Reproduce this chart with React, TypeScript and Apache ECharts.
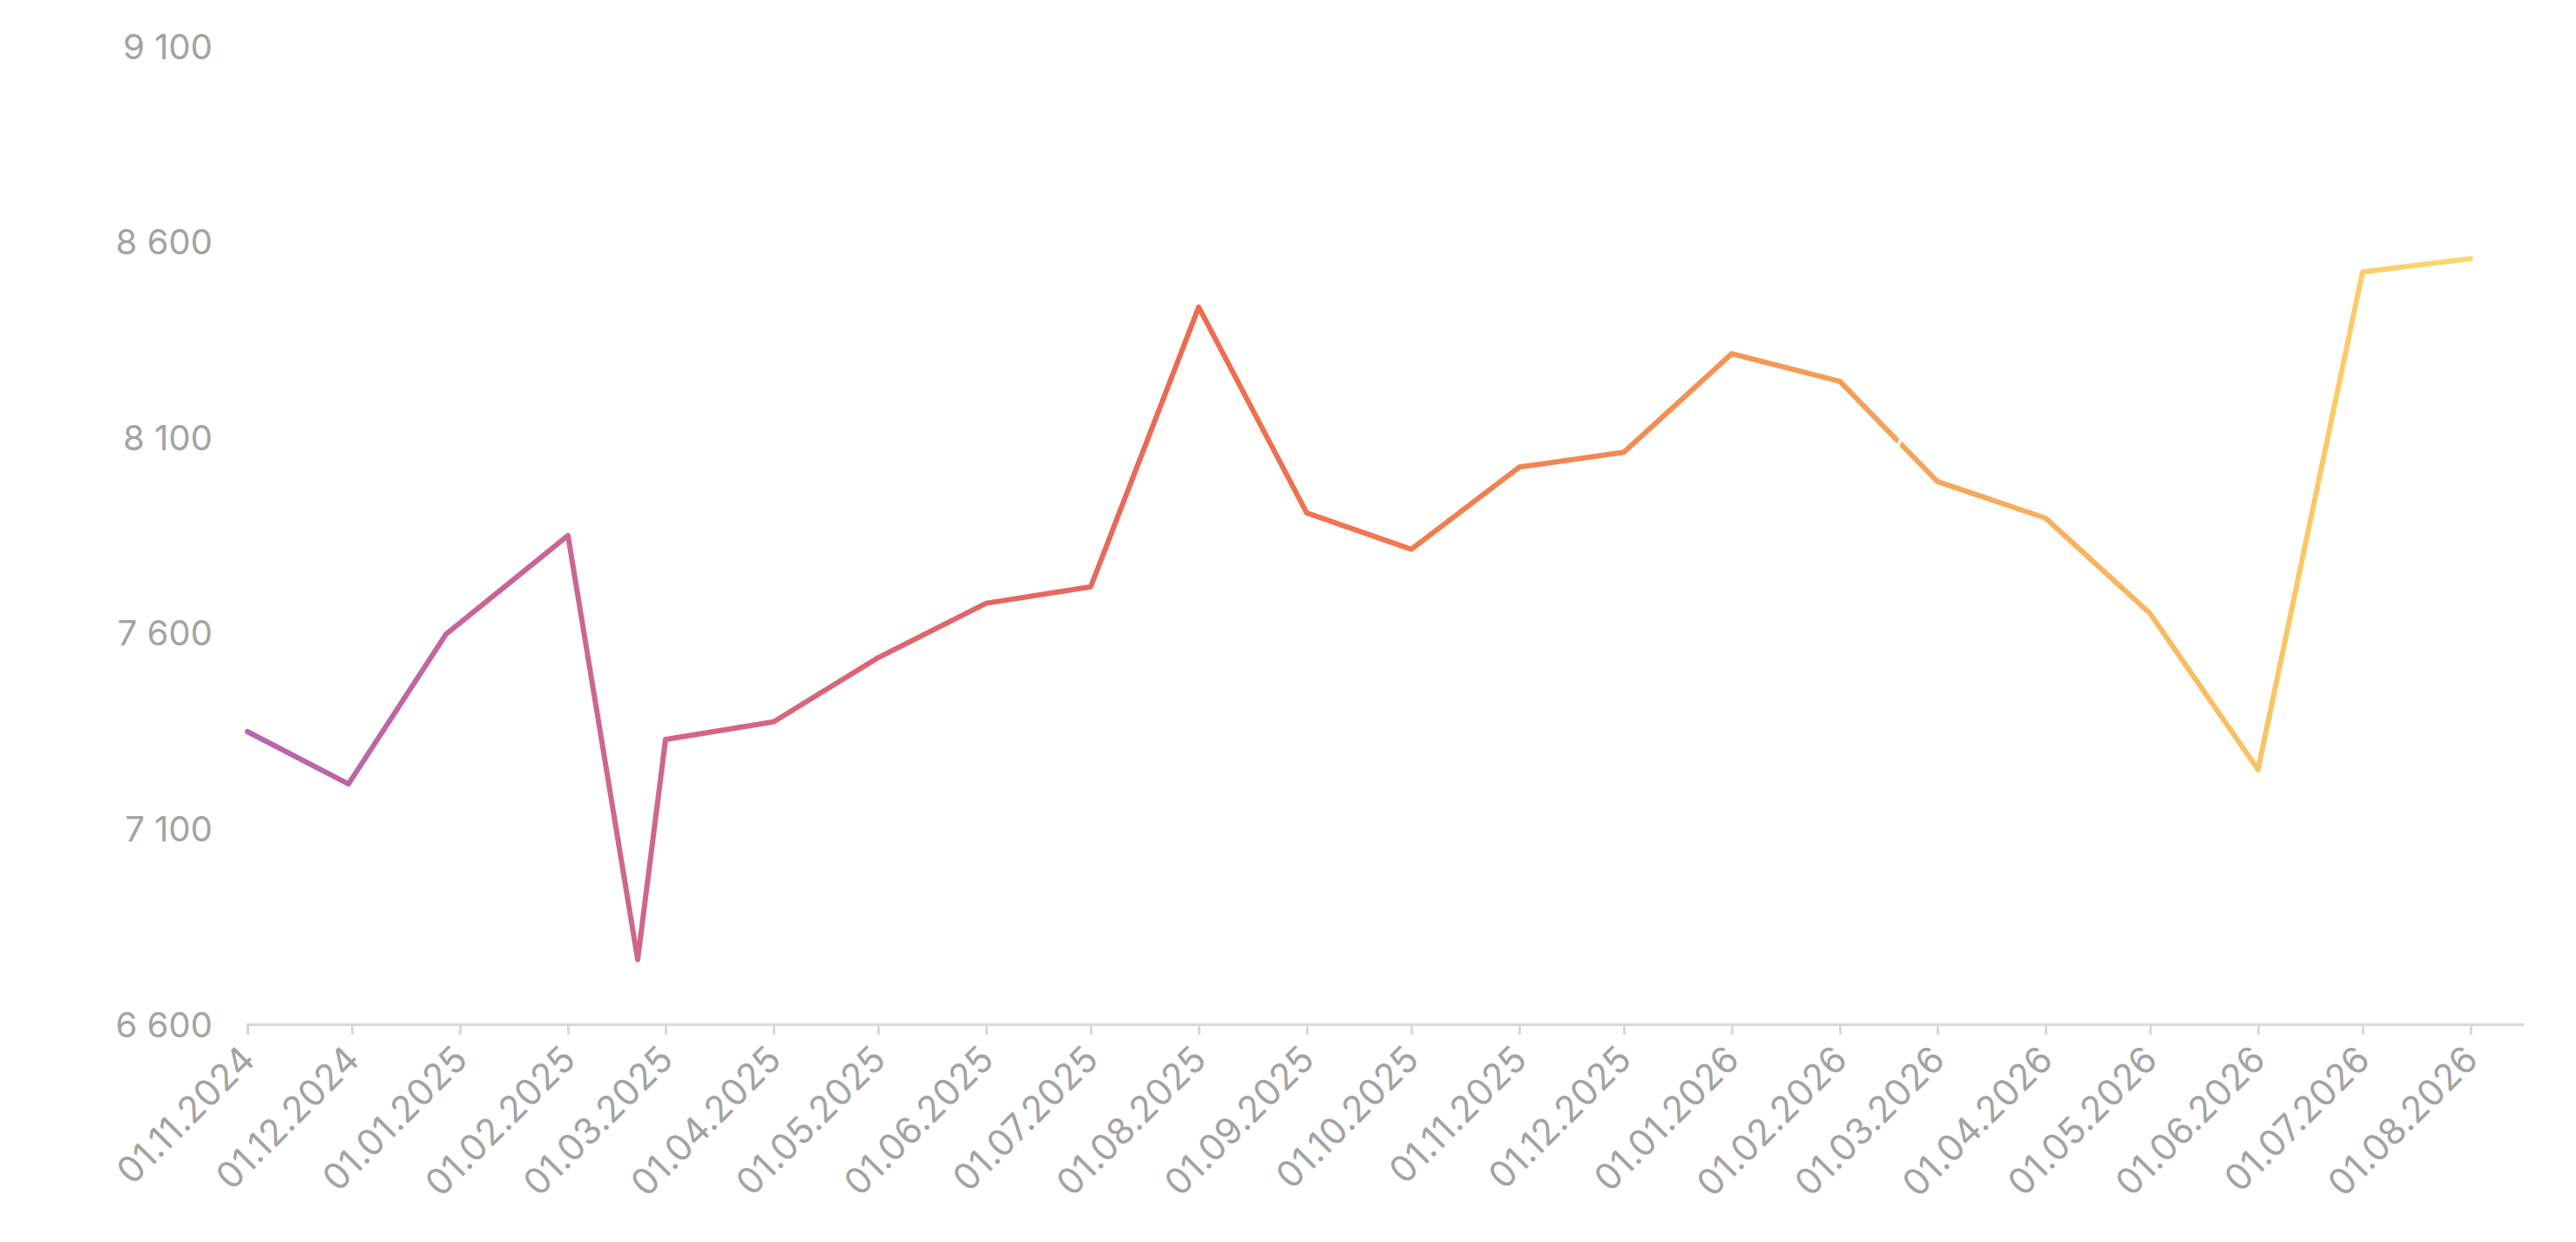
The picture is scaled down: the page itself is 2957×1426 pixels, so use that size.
import React, { useEffect, useRef } from "react";
import * as echarts from "echarts";

const pointDates = [
  "2024-11-01", "2024-11-30", "2024-12-28", "2025-02-01", "2025-02-21", "2025-03-01",
  "2025-04-01", "2025-05-01", "2025-06-01", "2025-07-01", "2025-08-01", "2025-09-01",
  "2025-10-01", "2025-11-01", "2025-12-01", "2026-01-01", "2026-02-01", "2026-03-01",
  "2026-04-01", "2026-05-01", "2026-06-01", "2026-07-01", "2026-08-01",
];
const pointValues = [
  7348, 7214, 7597, 7849, 6765, 7328,
  7373, 7537, 7676, 7718, 8433, 7907,
  7814, 8024, 8062, 8314, 8243, 7987,
  7894, 7650, 7251, 8523, 8557,
];
const tickDates = [
  "2024-11-01", "2024-12-01", "2025-01-01", "2025-02-01", "2025-03-01", "2025-04-01",
  "2025-05-01", "2025-06-01", "2025-07-01", "2025-08-01", "2025-09-01", "2025-10-01",
  "2025-11-01", "2025-12-01", "2026-01-01", "2026-02-01", "2026-03-01", "2026-04-01",
  "2026-05-01", "2026-06-01", "2026-07-01", "2026-08-01",
];
const yTicks = [6600, 7100, 7600, 8100, 8600, 9100];
const axisMinDate = "2024-11-01";
const axisMaxDate = "2026-08-16";

// label nudges (px) for the white value labels, by point index
const labelShift: Record<number, [number, number]> = {
  0: [76, -11],
  1: [45, 0],
  9: [-25, -40],
  11: [40, 0],
  14: [-25, 0],
  19: [20, 0],
  22: [16, -28],
};

function ts(d: string): number {
  const [y, m, day] = d.split("-").map(Number);
  return Date.UTC(y, m - 1, day);
}
function fmtNum(v: number): string {
  return String(Math.round(v)).replace(/\B(?=(\d{3})+(?!\d))/g, " ");
}
function fmtDate(v: number): string {
  const d = new Date(v);
  const dd = String(d.getUTCDate()).padStart(2, "0");
  const mm = String(d.getUTCMonth() + 1).padStart(2, "0");
  return `${dd}.${mm}.${d.getUTCFullYear()}`;
}

export default function App() {
  const ref = useRef<HTMLDivElement>(null);
  useEffect(() => {
    if (!ref.current) return;
    const chart = echarts.init(ref.current, undefined, { renderer: "svg" });
    const data = pointDates.map((d, i) => {
      const prev = pointValues[i - 1];
      const next = pointValues[i + 1];
      const v = pointValues[i];
      const isMin = prev !== undefined && next !== undefined && v < prev && v < next;
      return {
        value: [ts(d), v],
        label: {
          position: isMin ? "bottom" : "top",
          offset: labelShift[i] || [0, 0],
        },
      };
    });
    chart.setOption({
      animation: false,
      backgroundColor: "#ffffff",
      grid: { left: 284, right: 61, top: 53, bottom: 250, outerBoundsMode: "none" },
      xAxis: {
        type: "value",
        min: ts(axisMinDate),
        max: ts(axisMaxDate),
        axisLine: { show: true, lineStyle: { color: "#d9d9d9", width: 3 } },
        axisTick: {
          show: true,
          length: 12,
          lineStyle: { color: "#d9d9d9", width: 3 },
          customValues: tickDates.map(ts),
        },
        axisLabel: {
          customValues: tickDates.map(ts),
          formatter: (v: number) => fmtDate(v),
          rotate: 45,
          margin: 32,
          color: "#a3a3a3",
          fontSize: 42,
          fontFamily: "Inter",
          hideOverlap: false,
        },
        splitLine: { show: false },
      },
      yAxis: {
        type: "value",
        min: 6600,
        max: 9100,
        axisLine: { show: false },
        axisTick: { show: false },
        splitLine: { show: false },
        axisLabel: {
          customValues: yTicks,
          formatter: (v: number) => fmtNum(v),
          margin: 40,
          color: "#a3a3a3",
          fontSize: 40,
          fontFamily: "Inter",
        },
      },
      series: [
        {
          type: "line",
          data,
          symbol: "circle",
          symbolSize: 1,
          showSymbol: true,
          itemStyle: { color: "rgba(0,0,0,0)" },
          lineStyle: {
            width: 6,
            cap: "round",
            join: "round",
            color: new echarts.graphic.LinearGradient(0, 0, 1, 0, [
              { offset: 0, color: "#b665b0" },
              { offset: 0.15, color: "#cc6690" },
              { offset: 0.3, color: "#de6470" },
              { offset: 0.43, color: "#ee6b50" },
              { offset: 0.6, color: "#f28752" },
              { offset: 0.75, color: "#f6a45a" },
              { offset: 0.9, color: "#f9c262" },
              { offset: 1, color: "#fcd86f" },
            ]),
          },
          label: {
            show: true,
            color: "#ffffff",
            fontSize: 40,
            fontFamily: "Inter",
            distance: 32,
            formatter: (p: any) => fmtNum(p.value[1]),
          },
          emphasis: { disabled: true },
        },
      ],
    });
    return () => chart.dispose();
  }, []);
  return (
    <div
      ref={ref}
      style={{ position: "fixed", left: 0, top: 0, width: "2957px", height: "1426px" }}
    />
  );
}
